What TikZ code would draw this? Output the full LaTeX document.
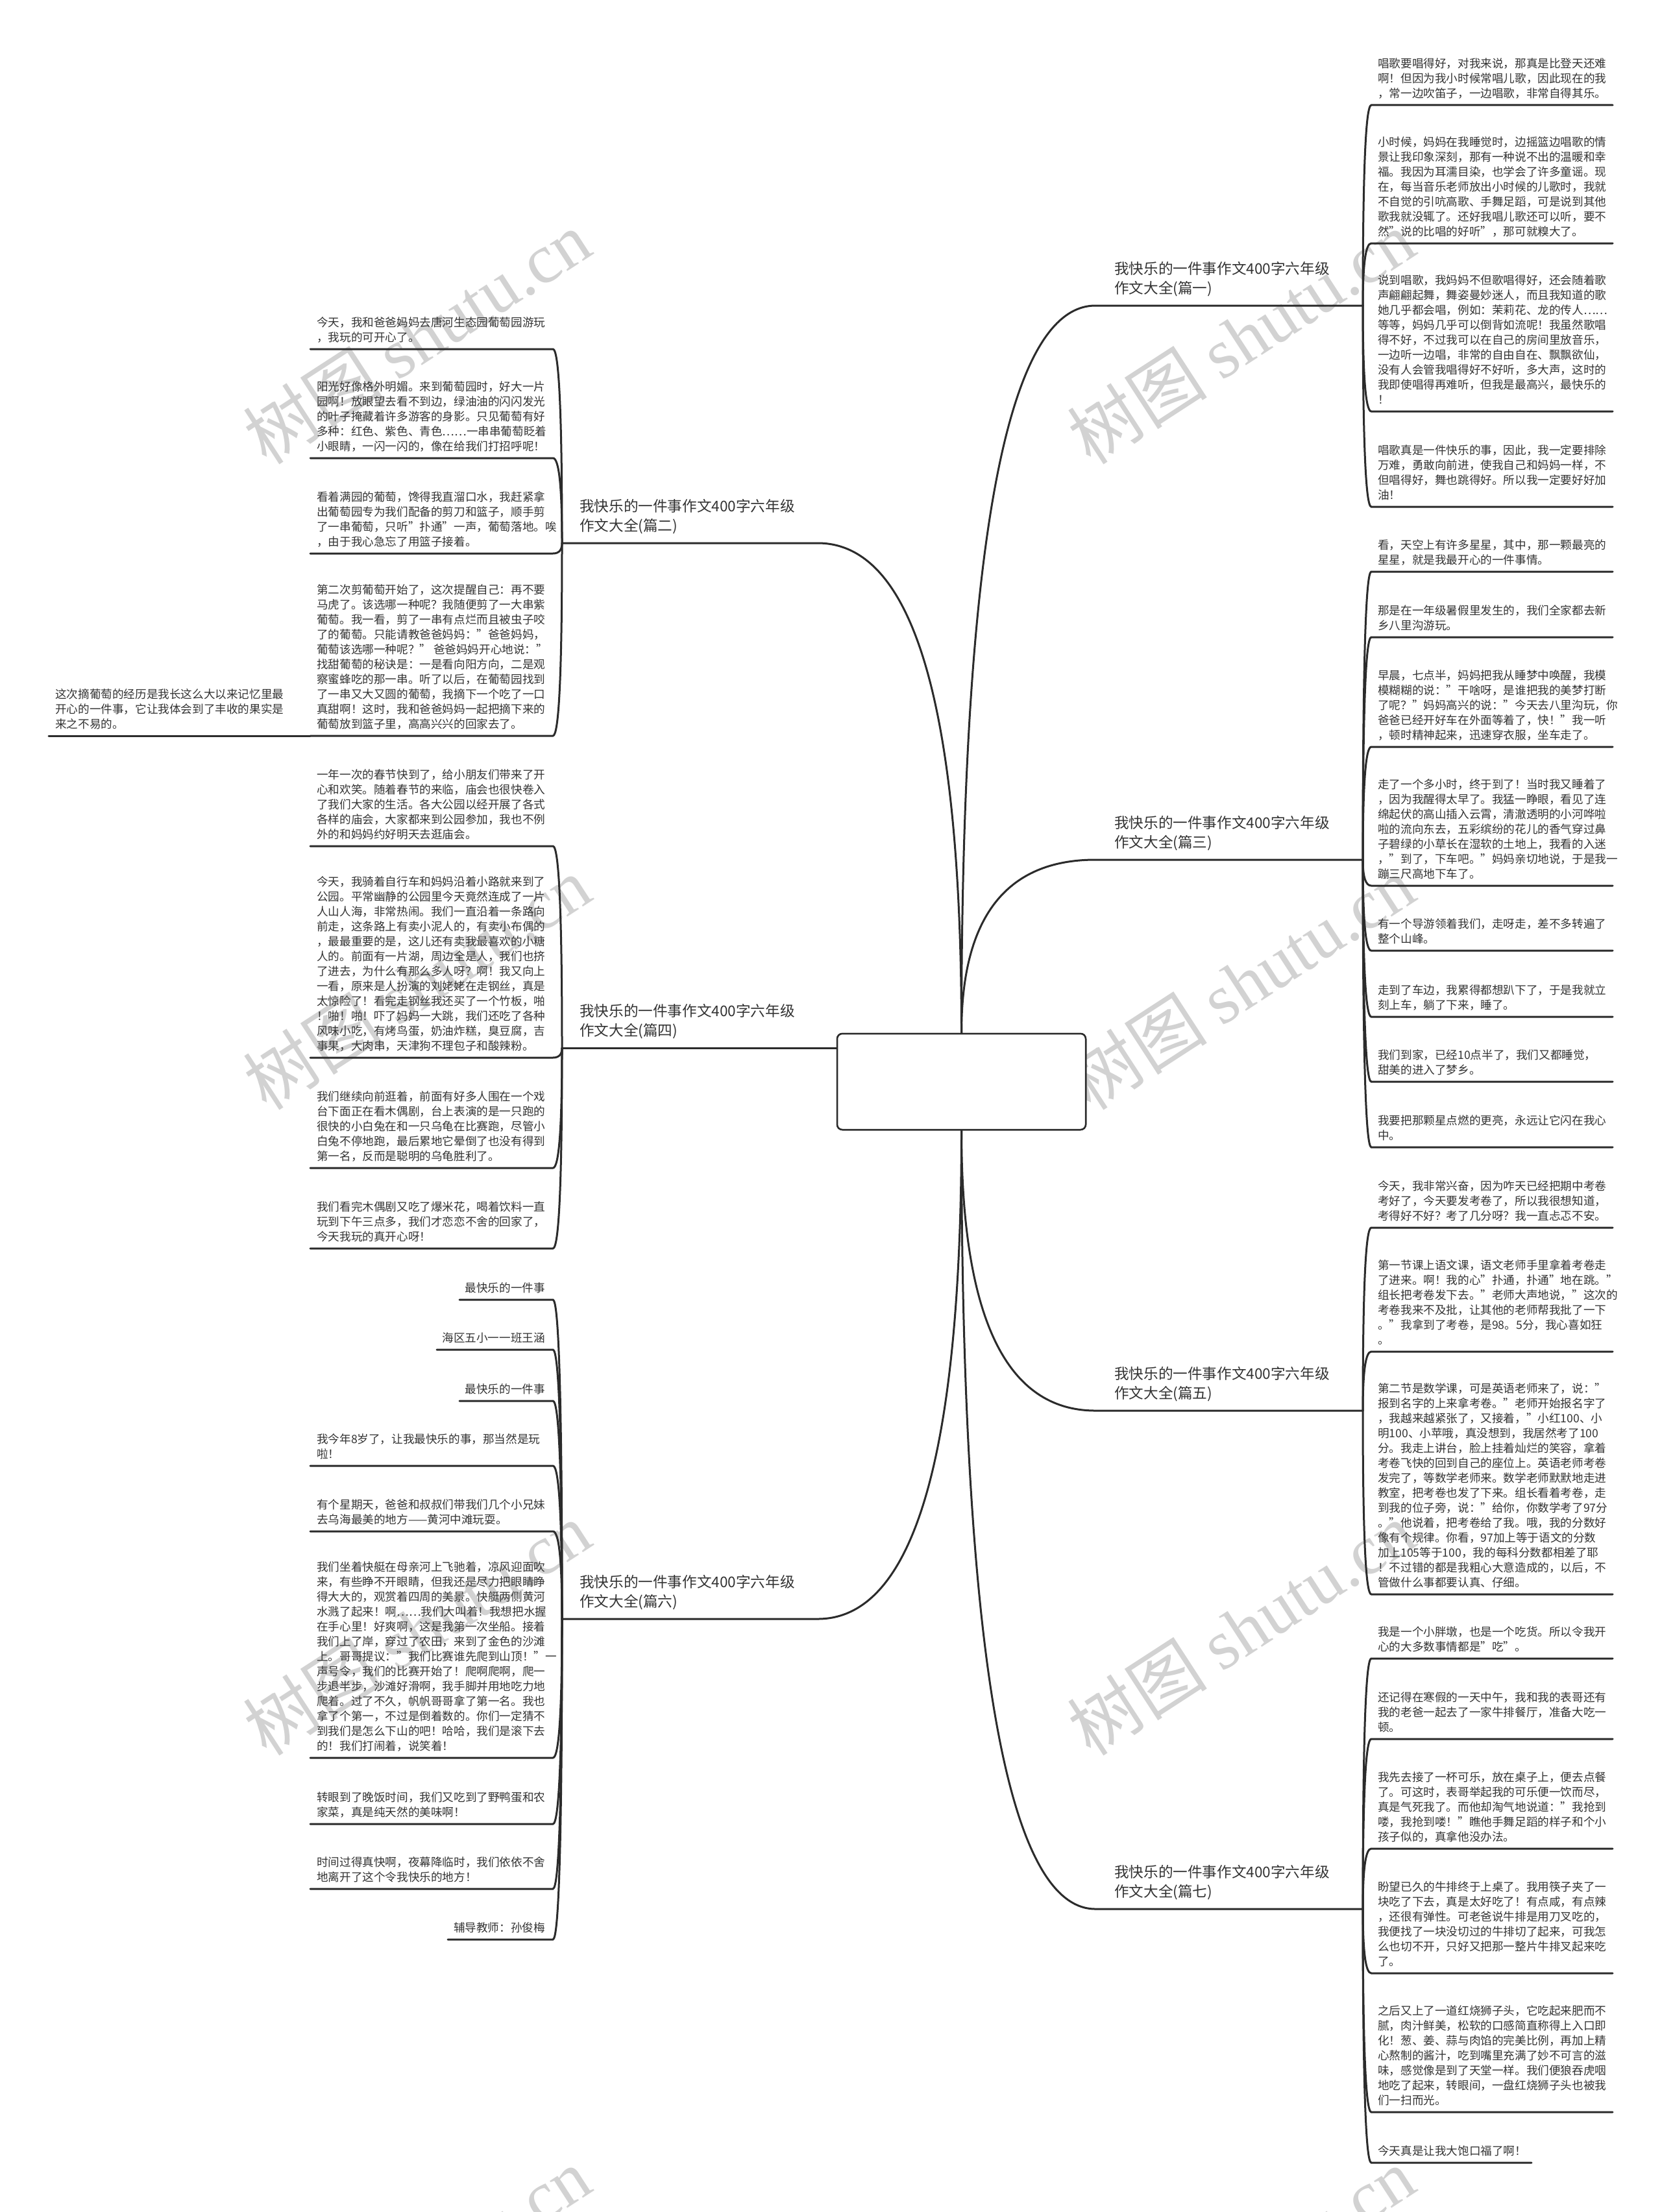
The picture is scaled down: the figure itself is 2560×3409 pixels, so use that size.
\documentclass[tikz,border=0pt]{standalone}
\usepackage{fontspec}
\setmainfont{Noto Sans CJK SC}
\newfontfamily\wmlatin{Liberation Serif}
\usetikzlibrary{calc}
\definecolor{ink}{HTML}{333333}
\definecolor{lineclr}{HTML}{2B2B2B}
\definecolor{wmclr}{HTML}{D2D2D2}
\newcommand\leaffont{\fontsize{17.6pt}{23pt}\selectfont}
\newcommand\branchfont{\fontsize{22.6pt}{30pt}\selectfont}
\newcommand\leafstrut{\rule[-5pt]{0pt}{5pt}}
\newcommand\brstrut{\rule[-6pt]{0pt}{6pt}}
\tikzset{
  ln/.style={draw=lineclr, line width=3pt, line cap=round},
  qc/.style={to path={.. controls ($(\tikztostart)!0.667!(\tikztostart|-\tikztotarget)$) and ($(\tikztotarget)!0.667!(\tikztostart|-\tikztotarget)$) .. (\tikztotarget)}},
  leafR/.style={anchor=south west, align=left, inner xsep=10pt, inner ysep=6.3pt, font=\leaffont, text=ink},
  leafL/.style={anchor=south west, align=left, inner xsep=10pt, inner ysep=6.3pt, font=\leaffont, text=ink},
  leafLR/.style={anchor=south east, align=right, inner xsep=12pt, inner ysep=6.3pt, font=\leaffont, text=ink},
  brR/.style={anchor=south west, align=left, inner xsep=29pt, inner ysep=12.4pt, font=\branchfont, text=ink},
  brL/.style={anchor=south west, align=left, inner xsep=27pt, inner ysep=12.4pt, font=\branchfont, text=ink},
  wm/.style={text=wmclr, font=\fontsize{108pt}{118pt}\selectfont, inner sep=0pt},
  rootbox/.style={draw=lineclr, line width=2.5pt, rounded corners=8pt, fill=white, minimum width=383pt, minimum height=148pt, inner sep=0pt},
}
\newcommand\rleafx[5]{%
  \coordinate (#1a) at (2113,#3);
  \coordinate (#1b) at (#4,#3);
  \node[leafR] (#1) at (#1a) {#5\leafstrut};
  \draw[ln] (#2) to[qc] (#1a) -- (#1b);
}
\newcommand\rleaf[4]{\rleafx{#1}{#2}{#3}{2485}{#4}}
\newcommand\lleaf[4]{%
  \coordinate (#1a) at (852,#3);
  \coordinate (#1b) at (478,#3);
  \node[leafL] (#1) at (#1b) {#4\leafstrut};
  \draw[ln] (#2) to[qc] (#1a) -- (#1b);
}
\newcommand\lshort[5]{%
  \coordinate (#1a) at (852,#3);
  \coordinate (#1b) at (#4,#3);
  \node[leafLR] (#1) at (#1a) {#5\leafstrut};
  \draw[ln] (#2) to[qc] (#1a) -- (#1b);
}
\begin{document}
\begin{tikzpicture}[x=1pt,y=-1pt]
\useasboundingbox (0,0) rectangle (2560,3409);
\fill[white] (0,0) rectangle (2560,3409);
% watermarks
\foreach \wy [count=\i] in {520,1515,2510,3505}{
  \node[wm, rotate=33] (wl\i) at (642,\wy) {树图 {\wmlatin shutu.cn}};
  \node[wm, rotate=33] (wr\i) at (1912,\wy) {树图 {\wmlatin shutu.cn}};
}
% root
\node[rootbox] (root) at (1481.5,1667) {};
\coordinate (JT) at (root.north);
\coordinate (JB) at (root.south);
\coordinate (JL) at (1290,1615);
% right branches
\coordinate (B1s) at (1688,471);  \coordinate (B1) at (2100,471);
\coordinate (B3s) at (1688,1325); \coordinate (B3) at (2100,1325);
\coordinate (B5s) at (1688,2174); \coordinate (B5) at (2100,2174);
\coordinate (B7s) at (1688,2942); \coordinate (B7) at (2100,2942);
\node[brR] (T1) at (B1s) {我快乐的一件事作文400字六年级\\作文大全(篇一)\brstrut};
\node[brR] (T3) at (B3s) {我快乐的一件事作文400字六年级\\作文大全(篇三)\brstrut};
\node[brR] (T5) at (B5s) {我快乐的一件事作文400字六年级\\作文大全(篇五)\brstrut};
\node[brR] (T7) at (B7s) {我快乐的一件事作文400字六年级\\作文大全(篇七)\brstrut};
\draw[ln] (JT) to[qc] (B1s) -- (B1);
\draw[ln] (JT) to[qc] (B3s) -- (B3);
\draw[ln] (JB) to[qc] (B5s) -- (B5);
\draw[ln] (JB) to[qc] (B7s) -- (B7);
% left branches
\coordinate (B2s) at (1260,837);  \coordinate (B2) at (866,837);
\coordinate (B4s) at (1260,1615); \coordinate (B4) at (866,1615);
\coordinate (B6s) at (1260,2495); \coordinate (B6) at (866,2495);
\node[brL] (T2) at (B2) {我快乐的一件事作文400字六年级\\作文大全(篇二)\brstrut};
\node[brL] (T4) at (B4) {我快乐的一件事作文400字六年级\\作文大全(篇四)\brstrut};
\node[brL] (T6) at (B6) {我快乐的一件事作文400字六年级\\作文大全(篇六)\brstrut};
\draw[ln] (JT) to[qc] (B2s) -- (B2);
\draw[ln] (JL) -- (B4s) -- (B4);
\draw[ln] (JB) to[qc] (B6s) -- (B6);
\node[rootbox] (root2) at (root) {};
% ---------- right leaves: 篇一
\rleaf{L1}{B1}{162}{唱歌要唱得好，对我来说，那真是比登天还难\\啊！但因为我小时候常唱儿歌，因此现在的我\\，常一边吹笛子，一边唱歌，非常自得其乐。}
\rleaf{L2}{B1}{375}{小时候，妈妈在我睡觉时，边摇篮边唱歌的情\\景让我印象深刻，那有一种说不出的温暖和幸\\福。我因为耳濡目染，也学会了许多童谣。现\\在，每当音乐老师放出小时候的儿歌时，我就\\不自觉的引吭高歌、手舞足蹈，可是说到其他\\歌我就没辄了。还好我唱儿歌还可以听，要不\\然"说的比唱的好听"，那可就糗大了。}
\rleaf{L3}{B1}{634}{说到唱歌，我妈妈不但歌唱得好，还会随着歌\\声翩翩起舞，舞姿曼妙迷人，而且我知道的歌\\她几乎都会唱，例如：茉莉花、龙的传人……\\等等，妈妈几乎可以倒背如流呢！我虽然歌唱\\得不好，不过我可以在自己的房间里放音乐，\\一边听一边唱，非常的自由自在、飘飘欲仙，\\没有人会管我唱得好不好听，多大声，这时的\\我即使唱得再难听，但我是最高兴，最快乐的\\！}
\rleaf{L4}{B1}{781}{唱歌真是一件快乐的事，因此，我一定要排除\\万难，勇敢向前进，使我自己和妈妈一样，不\\但唱得好，舞也跳得好。所以我一定要好好加\\油！}
% 篇三
\rleaf{L5}{B3}{881}{看，天空上有许多星星，其中，那一颗最亮的\\星星，就是我最开心的一件事情。}
\rleaf{L6}{B3}{982}{那是在一年级暑假里发生的，我们全家都去新\\乡八里沟游玩。}
\rleaf{L7}{B3}{1151}{早晨，七点半，妈妈把我从睡梦中唤醒，我模\\模糊糊的说："干啥呀，是谁把我的美梦打断\\了呢？"妈妈高兴的说："今天去八里沟玩，你\\爸爸已经开好车在外面等着了，快！"我一听\\，顿时精神起来，迅速穿衣服，坐车走了。}
\rleaf{L8}{B3}{1365}{走了一个多小时，终于到了！当时我又睡着了\\，因为我醒得太早了。我猛一睁眼，看见了连\\绵起伏的高山插入云霄，清澈透明的小河哗啦\\啦的流向东去，五彩缤纷的花儿的香气穿过鼻\\子碧绿的小草长在湿软的土地上，我看的入迷\\，"到了，下车吧。"妈妈亲切地说，于是我一\\蹦三尺高地下车了。}
\rleaf{L9}{B3}{1465}{有一个导游领着我们，走呀走，差不多转遍了\\整个山峰。}
\rleaf{L10}{B3}{1567}{走到了车边，我累得都想趴下了，于是我就立\\刻上车，躺了下来，睡了。}
\rleaf{L11}{B3}{1667}{我们到家，已经10点半了，我们又都睡觉，\\甜美的进入了梦乡。}
\rleaf{L12}{B3}{1768}{我要把那颗星点燃的更亮，永远让它闪在我心\\中。}
% 篇五
\rleaf{L13}{B5}{1892}{今天，我非常兴奋，因为咋天已经把期中考卷\\考好了，今天要发考卷了，所以我很想知道，\\考得好不好？考了几分呀？我一直忐忑不安。}
\rleaf{L14}{B5}{2083}{第一节课上语文课，语文老师手里拿着考卷走\\了进来。啊！我的心"扑通，扑通"地在跳。"\\组长把考卷发下去。"老师大声地说，"这次的\\考卷我来不及批，让其他的老师帮我批了一下\\。"我拿到了考卷，是98。5分，我心喜如狂\\。}
\rleaf{L15}{B5}{2457}{第二节是数学课，可是英语老师来了，说："\\报到名字的上来拿考卷。"老师开始报名字了\\，我越来越紧张了，又接着，"小红100、小\\明100、小苹哦，真没想到，我居然考了100\\分。我走上讲台，脸上挂着灿烂的笑容，拿着\\考卷飞快的回到自己的座位上。英语老师考卷\\发完了，等数学老师来。数学老师默默地走进\\教室，把考卷也发了下来。组长看着考卷，走\\到我的位子旁，说："给你，你数学考了97分\\。"他说着，把考卷给了我。哦，我的分数好\\像有个规律。你看，97加上等于语文的分数\\加上105等于100，我的每科分数都相差了耶\\！不过错的都是我粗心大意造成的，以后，不\\管做什么事都要认真、仔细。}
% 篇七
\rleaf{L16}{B7}{2556}{我是一个小胖墩，也是一个吃货。所以令我开\\心的大多数事情都是"吃"。}
\rleaf{L17}{B7}{2680}{还记得在寒假的一天中午，我和我的表哥还有\\我的老爸一起去了一家牛排餐厅，准备大吃一\\顿。}
\rleaf{L18}{B7}{2849}{我先去接了一杯可乐，放在桌子上，便去点餐\\了。可这时，表哥举起我的可乐便一饮而尽，\\真是气死我了。而他却淘气地说道："我抢到\\喽，我抢到喽！"瞧他手舞足蹈的样子和个小\\孩子似的，真拿他没办法。}
\rleaf{L19}{B7}{3041}{盼望已久的牛排终于上桌了。我用筷子夹了一\\块吃了下去，真是太好吃了！有点咸，有点辣\\，还很有弹性。可老爸说牛排是用刀叉吃的，\\我便找了一块没切过的牛排切了起来，可我怎\\么也切不开，只好又把那一整片牛排叉起来吃\\了。}
\rleaf{L20}{B7}{3255}{之后又上了一道红烧狮子头，它吃起来肥而不\\腻，肉汁鲜美，松软的口感简直称得上入口即\\化！葱、姜、蒜与肉馅的完美比例，再加上精\\心熬制的酱汁，吃到嘴里充满了妙不可言的滋\\味，感觉像是到了天堂一样。我们便狼吞虎咽\\地吃了起来，转眼间，一盘红烧狮子头也被我\\们一扫而光。}
\rleafx{L21}{B7}{3333}{2360}{今天真是让我大饱口福了啊！}
% ---------- left leaves: 篇二
\lleaf{L22}{B2}{538}{今天，我和爸爸妈妈去唐河生态园葡萄园游玩\\，我玩的可开心了。}
\lleaf{L23}{B2}{706}{阳光好像格外明媚。来到葡萄园时，好大一片\\园啊！放眼望去看不到边，绿油油的闪闪发光\\的叶子掩藏着许多游客的身影。只见葡萄有好\\多种：红色、紫色、青色……一串串葡萄眨着\\小眼睛，一闪一闪的，像在给我们打招呼呢！}
\lleaf{L24}{B2}{853}{看着满园的葡萄，馋得我直溜口水，我赶紧拿\\出葡萄园专为我们配备的剪刀和篮子，顺手剪\\了一串葡萄，只听"扑通"一声，葡萄落地。唉\\，由于我心急忘了用篮子接着。}
\lleaf{L25}{B2}{1134}{第二次剪葡萄开始了，这次提醒自己：再不要\\马虎了。该选哪一种呢？我随便剪了一大串紫\\葡萄。我一看，剪了一串有点烂而且被虫子咬\\了的葡萄。只能请教爸爸妈妈："爸爸妈妈，\\葡萄该选哪一种呢？" 爸爸妈妈开心地说："\\找甜葡萄的秘诀是：一是看向阳方向，二是观\\察蜜蜂吃的那一串。听了以后，在葡萄园找到\\了一串又大又圆的葡萄，我摘下一个吃了一口\\真甜啊！这时，我和爸爸妈妈一起把摘下来的\\葡萄放到篮子里，高高兴兴的回家去了。}
\coordinate (L25c) at (75,1134);
\node[leafL] (L25x) at (L25c) {这次摘葡萄的经历是我长这么大以来记忆里最\\开心的一件事，它让我体会到了丰收的果实是\\来之不易的。\leafstrut};
\draw[ln] (L25b) -- (L25c);
% 篇四
\lleaf{L26}{B4}{1304}{一年一次的春节快到了，给小朋友们带来了开\\心和欢笑。随着春节的来临，庙会也很快卷入\\了我们大家的生活。各大公园以经开展了各式\\各样的庙会，大家都来到公园参加，我也不例\\外的和妈妈约好明天去逛庙会。}
\lleaf{L27}{B4}{1630}{今天，我骑着自行车和妈妈沿着小路就来到了\\公园。平常幽静的公园里今天竟然连成了一片\\人山人海，非常热闹。我们一直沿着一条路向\\前走，这条路上有卖小泥人的，有卖小布偶的\\，最最重要的是，这儿还有卖我最喜欢的小糖\\人的。前面有一片湖，周边全是人，我们也挤\\了进去，为什么有那么多人呀？啊！我又向上\\一看，原来是人扮演的刘姥姥在走钢丝，真是\\太惊险了！看完走钢丝我还买了一个竹板，啪\\！啪！啪！吓了妈妈一大跳，我们还吃了各种\\风味小吃，有烤鸟蛋，奶油炸糕，臭豆腐，吉\\事果，大肉串，天津狗不理包子和酸辣粉。}
\lleaf{L28}{B4}{1800}{我们继续向前逛着，前面有好多人围在一个戏\\台下面正在看木偶剧，台上表演的是一只跑的\\很快的小白兔在和一只乌龟在比赛跑，尽管小\\白兔不停地跑，最后累地它晕倒了也没有得到\\第一名，反而是聪明的乌龟胜利了。}
\lleaf{L29}{B4}{1924}{我们看完木偶剧又吃了爆米花，喝着饮料一直\\玩到下午三点多，我们才恋恋不舍的回家了，\\今天我玩的真开心呀！}
% 篇六
\lshort{L30}{B6}{2003}{708}{最快乐的一件事}
\lshort{L31}{B6}{2080}{673}{海区五小一一班王涵}
\lshort{L32}{B6}{2159}{708}{最快乐的一件事}
\lleaf{L33}{B6}{2259}{我今年8岁了，让我最快乐的事，那当然是玩\\啦！}
\lleaf{L34}{B6}{2360}{有个星期天，爸爸和叔叔们带我们几个小兄妹\\去乌海最美的地方——黄河中滩玩耍。}
\lleaf{L35}{B6}{2709}{我们坐着快艇在母亲河上飞驰着，凉风迎面吹\\来，有些睁不开眼睛，但我还是尽力把眼睛睁\\得大大的，观赏着四周的美景。快艇两侧黄河\\水溅了起来！啊……我们大叫着！我想把水握\\在手心里！好爽啊，这是我第一次坐船。接着\\我们上了岸，穿过了农田，来到了金色的沙滩\\上。哥哥提议："我们比赛谁先爬到山顶！"一\\声号令，我们的比赛开始了！爬啊爬啊，爬一\\步退半步，沙滩好滑啊，我手脚并用地吃力地\\爬着。过了不久，帆帆哥哥拿了第一名。我也\\拿了个第一，不过是倒着数的。你们一定猜不\\到我们是怎么下山的吧！哈哈，我们是滚下去\\的！我们打闹着，说笑着！}
\lleaf{L36}{B6}{2811}{转眼到了晚饭时间，我们又吃到了野鸭蛋和农\\家菜，真是纯天然的美味啊！}
\lleaf{L37}{B6}{2911}{时间过得真快啊，夜幕降临时，我们依依不舍\\地离开了这个令我快乐的地方！}
\lshort{L38}{B6}{2989}{690}{辅导教师：孙俊梅}
\end{tikzpicture}
\end{document}
